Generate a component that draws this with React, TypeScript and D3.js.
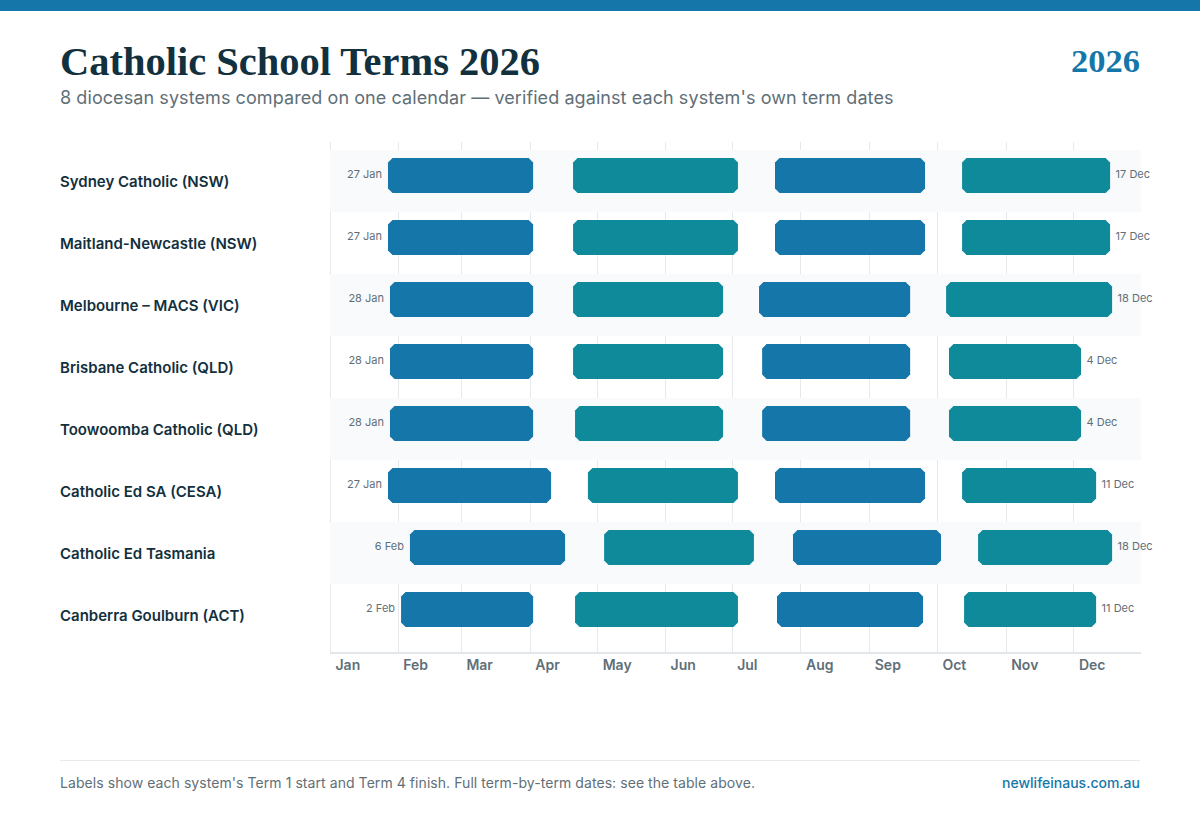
import React from "react";
import * as d3 from "d3";

const systems = ["Sydney Catholic (NSW)", "Maitland-Newcastle (NSW)", "Melbourne – MACS (VIC)", "Brisbane Catholic (QLD)", "Toowoomba Catholic (QLD)", "Catholic Ed SA (CESA)", "Catholic Ed Tasmania", "Canberra Goulburn (ACT)"];
// Positions on the calendar, in days since 1 Jan
const term1 = [[25.9, 91.3], [25.9, 91.3], [26.8, 91.3], [26.8, 91.3], [26.8, 91.3], [25.9, 99.4], [35.8, 105.7], [31.8, 91.3]];
const term2 = [[109.3, 183.6], [109.3, 183.6], [109.3, 176.9], [109.3, 176.9], [110.2, 176.9], [116.0, 183.6], [123.3, 190.8], [110.2, 183.6]];
const term3 = [[200.3, 267.9], [200.3, 267.9], [193.1, 261.2], [194.5, 261.2], [194.5, 261.2], [200.3, 267.9], [208.4, 275.1], [201.2, 267.0]];
const term4 = [[284.6, 351.3], [284.6, 351.3], [277.4, 352.2], [278.7, 338.2], [278.7, 338.2], [284.6, 345.0], [291.8, 352.2], [285.5, 345.0]];
const startLabels = ["27 Jan", "27 Jan", "28 Jan", "28 Jan", "28 Jan", "27 Jan", "6 Feb", "2 Feb"];
const endLabels = ["17 Dec", "17 Dec", "18 Dec", "4 Dec", "4 Dec", "11 Dec", "18 Dec", "11 Dec"];
const months = ["Jan", "Feb", "Mar", "Apr", "May", "Jun", "Jul", "Aug", "Sep", "Oct", "Nov", "Dec"];
const monthStarts = [0, 30.5, 59, 90, 120.4, 151, 181, 212, 243, 273.5, 304.5, 335];
const terms = [term1, term2, term3, term4];
const termColors = ["#1576a9", "#0f8a9b"];

const SANS = "Inter, 'Noto Sans', sans-serif";
const SERIF = "'Liberation Serif', serif";
const INK = "#12303d";
const MUTED = "#5f6f78";
const GRID = "#e7eaec";

const x = d3.scaleLinear().domain([0, 365]).range([330.5, 1140.5]);
const y = d3.scaleBand<number>().domain(d3.range(systems.length)).range([150, 646]);
const BAR_TOP = 8;
const BAR_H = 35;
const C = 4.5;

function barPath(a: number, b: number, top: number) {
  const l = x(a), r = x(b), t = top + BAR_TOP, u = t + BAR_H;
  const pts: [number, number][] = [
    [l + C, t], [r - C, t], [r, t + C], [r, u - C], [r - C, u], [l + C, u], [l, u - C], [l, t + C],
  ];
  return d3.line()(pts) + "Z";
}

export default function App() {
  return (
    <svg width={1200} height={820} viewBox="0 0 1200 820" style={{ position: "absolute", left: 0, top: 0, background: "#fff" }}>
      <rect x={0} y={0} width={1200} height={11} fill="#1577a9" />
      <text x={60} y={75} fontFamily={SERIF} fontWeight={700} fontSize={40} fill={INK} textLength={480} lengthAdjust="spacingAndGlyphs">Catholic School Terms 2026</text>
      <text x={1071} y={72} fontFamily={SERIF} fontWeight={700} fontSize={32} fill="#1577a9" textLength={69} lengthAdjust="spacingAndGlyphs">2026</text>
      <text x={60} y={104} fontFamily={SANS} fontSize={18} fill={MUTED} textLength={833.5}>8 diocesan systems compared on one calendar — verified against each system's own term dates</text>

      <g>
        {monthStarts.map((d, i) => (
          <line key={months[i]} x1={Math.round(x(d) - 0.5) + 0.5} x2={Math.round(x(d) - 0.5) + 0.5} y1={142} y2={652} stroke={GRID} strokeWidth={1} />
        ))}
      </g>
      <g>
        {systems.map((_, i) => i % 2 === 0 && (
          <rect key={i} x={330} y={y(i)!} width={811} height={y.bandwidth()} fill="#f8fafb" />
        ))}
      </g>
      <rect x={330} y={652} width={811} height={2} fill="#e3e7ea" />
      <g>
        {months.map((m, i) => (
          <text key={m} x={x(monthStarts[i]) + 5} y={670} fontFamily={SANS} fontSize={14} fontWeight={600} fill={MUTED}>{m}</text>
        ))}
      </g>
      {systems.map((name, i) => {
        const top = y(i)!;
        return (
          <g key={name}>
            <text x={60} y={top + 37} fontFamily={SANS} fontSize={15} fontWeight={600} fill={INK}>{name}</text>
            {terms.map((t, k) => (
              <path key={k} d={barPath(t[i][0], t[i][1], top)} fill={termColors[k % 2]} />
            ))}
            <text x={x(term1[i][0]) - 6} y={top + 28} textAnchor="end" fontFamily={SANS} fontSize={11} fill={MUTED}>{startLabels[i]}</text>
            <text x={x(term4[i][1]) + 5.5} y={top + 28} fontFamily={SANS} fontSize={11} fill={MUTED}>{endLabels[i]}</text>
          </g>
        );
      })}
      <line x1={60} x2={1140} y1={760.5} y2={760.5} stroke={GRID} />
      <text x={60} y={788} fontFamily={SANS} fontSize={14} fill={MUTED} textLength={695}>Labels show each system's Term 1 start and Term 4 finish. Full term-by-term dates: see the table above.</text>
      <text x={1140} y={788} textAnchor="end" fontFamily={SANS} fontSize={14} fontWeight={500} fill="#1577a9">newlifeinaus.com.au</text>
    </svg>
  );
}
